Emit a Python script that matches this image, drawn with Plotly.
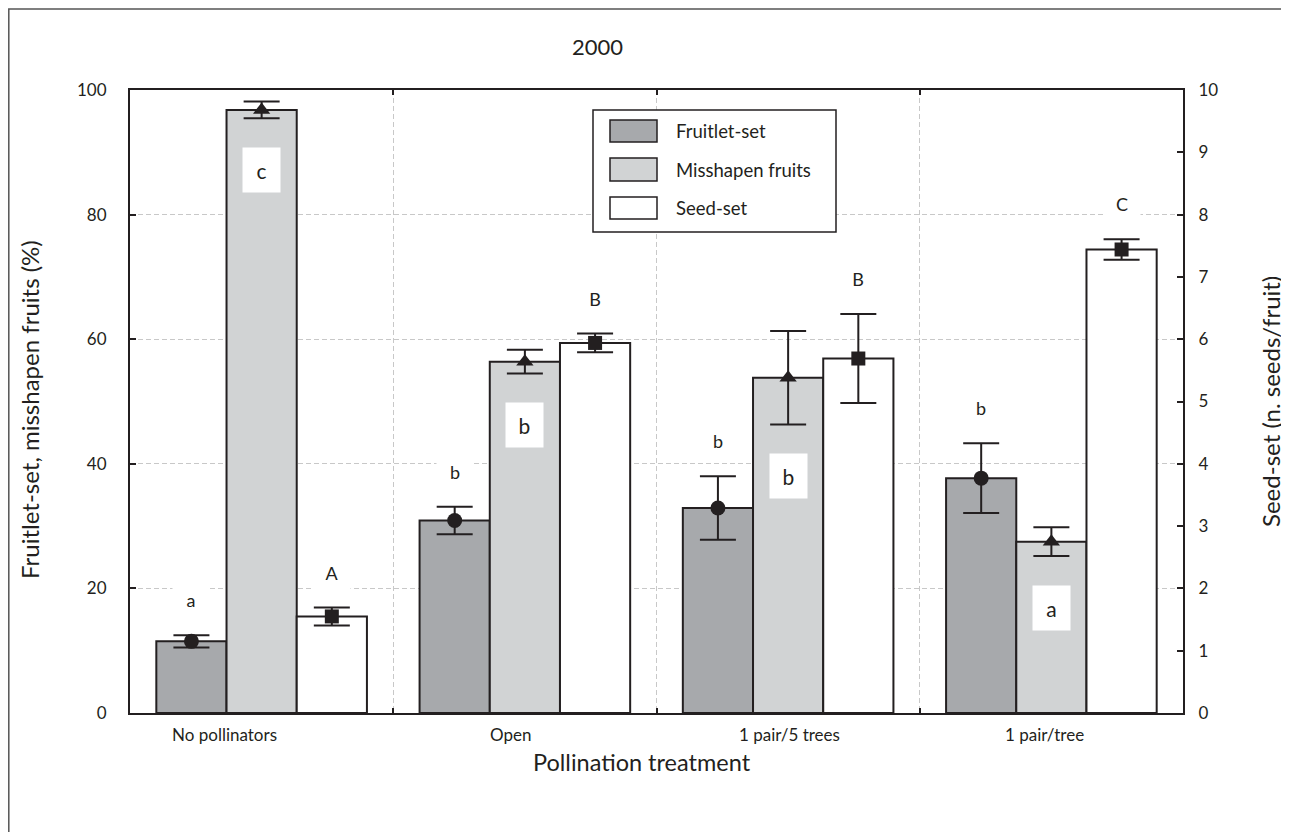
import plotly.graph_objects as go

# ---------------- data ----------------
categories = ["No pollinators", "Open", "1 pair/5 trees", "1 pair/tree"]
fruitlet = [11.5, 30.9, 32.9, 37.7]          # %
fruitlet_err = [1.0, 2.2, 5.1, 5.6]
misshapen = [96.8, 56.4, 53.8, 27.5]         # %
misshapen_err = [1.35, 1.9, 7.5, 2.3]
seed = [1.55, 5.94, 5.69, 7.44]              # seeds/fruit
seed_err = [0.145, 0.15, 0.715, 0.165]
fruitlet_letters = ["a", "b", "b", "b"]
misshapen_letters = ["c", "b", "b", "a"]
seed_letters = ["A", "B", "B", "C"]
series_names = ["Fruitlet-set", "Misshapen fruits", "Seed-set"]

# ---------------- layout helpers ----------------
PAGE_OFF = 8                      # default body margin of the html page
WIDTH, HEIGHT = 1289 - PAGE_OFF, 832 - PAGE_OFF
ML, MT, PW, PH = 130 - PAGE_OFF, 90 - PAGE_OFF, 1053, 623
MR = WIDTH - ML - PW
MB = HEIGHT - MT - PH


def fx(p):
    """page pixel x -> paper x"""
    return (p - PAGE_OFF - ML) / PW


def fy(p):
    """page pixel y -> paper y"""
    return (MT + PH - (p - PAGE_OFF)) / PH


INK = "#231f20"
DARK = "#a7a9ac"
LIGHT = "#d1d3d4"
WHITE = "#ffffff"
GRID = "#c8c8c8"
GRID_DASH = "5px,3px"
FONT = "Lato"

n = len(categories)
xs = list(range(n))
BW = 0.8 / 3
centers = [-BW, 0.0, BW]

fig = go.Figure()

bar_specs = [
    (fruitlet, DARK, "y"),
    (misshapen, LIGHT, "y"),
    (seed, WHITE, "y2"),
]
for k, (vals, col, ax) in enumerate(bar_specs):
    fig.add_trace(go.Bar(
        x=xs, y=vals, width=BW, offset=centers[k] - BW / 2,
        marker=dict(color=col, line=dict(color=INK, width=2)),
        name=series_names[k], yaxis=ax, showlegend=False,
    ))

marker_specs = [
    (fruitlet, fruitlet_err, "circle", 15, "y"),
    (misshapen, misshapen_err, "triangle-up", 15, "y"),
    (seed, seed_err, "square", 14, "y2"),
]
for k, (vals, errs, sym, sz, ax) in enumerate(marker_specs):
    fig.add_trace(go.Scatter(
        x=[x + centers[k] for x in xs], y=vals, mode="markers",
        marker=dict(symbol=sym, size=sz, color=INK),
        error_y=dict(type="data", array=errs, symmetric=True,
                     color=INK, thickness=2, width=18),
        yaxis=ax, showlegend=False, hoverinfo="skip",
    ))

annotations = []
for i in xs:
    annotations.append(dict(
        x=i + centers[0], y=fruitlet[i] + fruitlet_err[i] + 5.6,
        xref="x", yref="y", text=fruitlet_letters[i], showarrow=False,
        font=dict(family=FONT, size=18, color=INK), bgcolor=WHITE,
        width=34, height=34, xanchor="center", yanchor="middle"))
    annotations.append(dict(
        x=i + centers[2], y=(seed[i] + seed_err[i]) * 10 + 5.6,
        xref="x", yref="y", text=seed_letters[i], showarrow=False,
        font=dict(family=FONT, size=18, color=INK), bgcolor=WHITE,
        width=34, height=34, xanchor="center", yanchor="middle"))
    annotations.append(dict(
        x=i + centers[1], y=misshapen[i] - misshapen_err[i] - 8.3,
        xref="x", yref="y", text=misshapen_letters[i], showarrow=False,
        font=dict(family=FONT, size=21, color=INK), bgcolor=WHITE,
        width=35, height=42, xanchor="center", yanchor="middle"))

cat_label_px = [224, 510, 789, 1044]
for i, lab in enumerate(categories):
    annotations.append(dict(
        x=fx(cat_label_px[i]), y=fy(734), xref="paper", yref="paper",
        text=lab, showarrow=False, xanchor="center", yanchor="middle",
        font=dict(family=FONT, size=17, color=INK)))

annotations += [
    dict(x=fx(597), y=fy(47), xref="paper", yref="paper", text="2000",
         showarrow=False, xanchor="center", yanchor="middle",
         font=dict(family=FONT, size=22, color=INK)),
    dict(x=fx(642), y=fy(762), xref="paper", yref="paper",
         text="Pollination treatment", showarrow=False,
         xanchor="center", yanchor="middle",
         font=dict(family=FONT, size=23.5, color=INK)),
    dict(x=fx(30), y=fy(410), xref="paper", yref="paper",
         text="Fruitlet-set, misshapen fruits (%)", textangle=-90,
         showarrow=False, xanchor="center", yanchor="middle",
         font=dict(family=FONT, size=24, color=INK)),
    dict(x=fx(1270), y=fy(402), xref="paper", yref="paper",
         text="Seed-set (n. seeds/fruit)", textangle=-90,
         showarrow=False, xanchor="center", yanchor="middle",
         font=dict(family=FONT, size=24, color=INK)),
]

shapes = [
    dict(type="rect", xref="paper", yref="paper",
         x0=fx(593), x1=fx(836), y0=fy(232), y1=fy(110),
         line=dict(color=INK, width=1.5), fillcolor=WHITE, layer="above"),
    dict(type="rect", xref="paper", yref="paper",
         x0=fx(8.8), x1=fx(1330), y0=fy(870), y1=fy(9),
         line=dict(color="#555555", width=1.5), layer="below"),
]
legend_rows = [(120, 142, DARK), (158, 181, LIGHT), (197, 219, WHITE)]
for k, (t, b, col) in enumerate(legend_rows):
    shapes.append(dict(type="rect", xref="paper", yref="paper",
                       x0=fx(610), x1=fx(657), y0=fy(b), y1=fy(t),
                       line=dict(color=INK, width=1.5), fillcolor=col,
                       layer="above"))
    annotations.append(dict(x=fx(674), y=fy((t + b) / 2), xref="paper",
                            yref="paper", text=series_names[k],
                            showarrow=False, xanchor="left",
                            yanchor="middle",
                            font=dict(family=FONT, size=18.5, color=INK)))

fig.update_layout(
    width=WIDTH, height=HEIGHT,
    margin=dict(l=ML, r=MR, t=MT, b=MB, autoexpand=False),
    paper_bgcolor=WHITE, plot_bgcolor=WHITE,
    barmode="overlay", showlegend=False,
    font=dict(family=FONT, color=INK),
    xaxis=dict(range=[-0.5, n - 0.5], tickvals=[0.5, 1.5, 2.5],
               showticklabels=False, showgrid=True, gridcolor=GRID,
               griddash=GRID_DASH, gridwidth=1, ticks="inside", ticklen=5,
               tickwidth=2, tickcolor=INK, showline=True, linecolor=INK,
               linewidth=2, mirror="ticks", zeroline=False, fixedrange=True),
    yaxis=dict(range=[0, 100], tickvals=[0, 20, 40, 60, 80, 100],
               showgrid=True, gridcolor=GRID, griddash=GRID_DASH, gridwidth=1,
               ticks="inside", ticklen=6, tickwidth=2, tickcolor=INK,
               showline=True, linecolor=INK, linewidth=2, zeroline=False,
               tickfont=dict(family=FONT, size=17, color=INK),
               ticklabelstandoff=18),
    yaxis2=dict(range=[0, 10], tickvals=list(range(0, 11)),
                overlaying="y", side="right", showgrid=False,
                ticks="inside", ticklen=6, tickwidth=2, tickcolor=INK,
                showline=True, linecolor=INK, linewidth=2, zeroline=False,
                tickfont=dict(family=FONT, size=17, color=INK),
                ticklabelstandoff=10),
    annotations=annotations, shapes=shapes,
)

fig.write_html("out.html")
